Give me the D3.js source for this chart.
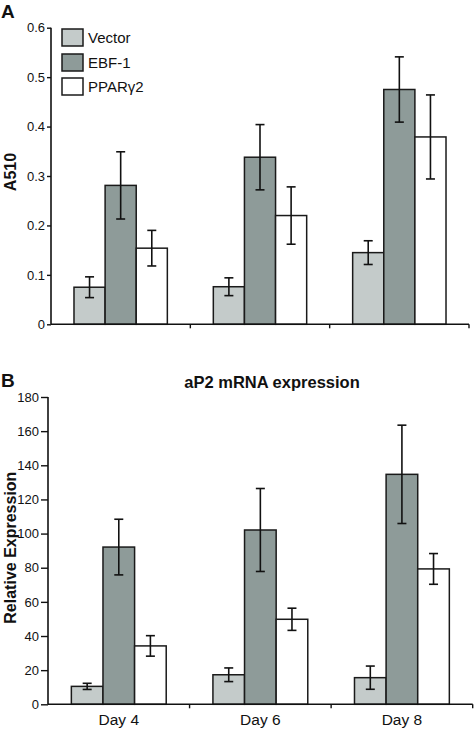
<!DOCTYPE html>
<html><head><meta charset="utf-8">
<script src="https://cdn.jsdelivr.net/npm/d3@7"></script>
<style>
html,body{margin:0;padding:0;background:#fff;}
text{font-family:"Liberation Sans",Arial,Helvetica,sans-serif;fill:#111;}
</style></head>
<body>
<svg id="chart" width="474" height="729"></svg>
<script>
// ---- data ----
const days = ["Day 4", "Day 6", "Day 8"];
const series = ["Vector", "EBF-1", "PPARγ2"];
const seriesColors = ["#c4cbca", "#8e9b99", "#ffffff"];

const a510Vector = [0.075, 0.076, 0.145];
const a510VectorErr = [0.021, 0.018, 0.024];
const a510EBF = [0.281, 0.338, 0.475];
const a510EBFErr = [0.068, 0.066, 0.066];
const a510PPAR = [0.154, 0.220, 0.379];
const a510PPARErr = [0.036, 0.058, 0.085];
const a510Ticks = [0, 0.1, 0.2, 0.3, 0.4, 0.5, 0.6];

const ap2Vector = [10.5, 17.3, 15.6];
const ap2VectorErr = [1.8, 4.0, 6.8];
const ap2EBF = [92.1, 102.1, 134.7];
const ap2EBFErr = [16.3, 24.3, 28.8];
const ap2PPAR = [34.2, 49.8, 79.3];
const ap2PPARErr = [6.0, 6.5, 9.0];
const ap2Ticks = [0, 20, 40, 60, 80, 100, 120, 140, 160, 180];

const svg = d3.select("#chart");

function panel(cfg) {
  const g = svg.append("g");
  const x0 = d3.scaleBand().domain(days).range([cfg.left, cfg.right])
    .paddingInner(0.33).paddingOuter(0.165);
  const x1 = d3.scaleBand().domain(series).range([0, x0.bandwidth()]);
  const y = d3.scaleLinear().domain(cfg.domain).range([cfg.bottom, cfg.top]);

  const rows = [];
  days.forEach((d, i) => {
    series.forEach((s, j) => {
      rows.push({day: d, s: s, j: j, v: cfg.values[j][i], e: cfg.errors[j][i]});
    });
  });

  // bars
  g.selectAll("rect.bar").data(rows).join("rect")
    .attr("class", "bar")
    .attr("x", d => x0(d.day) + x1(d.s))
    .attr("y", d => y(d.v))
    .attr("width", x1.bandwidth())
    .attr("height", d => y(0) - y(d.v))
    .attr("fill", d => seriesColors[d.j])
    .attr("stroke", "#1a1a1a").attr("stroke-width", 1.5);

  // error bars
  const eb = g.selectAll("g.err").data(rows).join("g").attr("class", "err")
    .attr("stroke", "#111").attr("stroke-width", 1.6);
  const cx = d => x0(d.day) + x1(d.s) + x1.bandwidth() / 2;
  eb.append("line").attr("x1", cx).attr("x2", cx)
    .attr("y1", d => y(d.v + d.e)).attr("y2", d => y(d.v - d.e));
  eb.append("line").attr("x1", d => cx(d) - 4.5).attr("x2", d => cx(d) + 4.5)
    .attr("y1", d => y(d.v + d.e)).attr("y2", d => y(d.v + d.e));
  eb.append("line").attr("x1", d => cx(d) - 4.5).attr("x2", d => cx(d) + 4.5)
    .attr("y1", d => y(d.v - d.e)).attr("y2", d => y(d.v - d.e));

  // y axis
  const ya = g.append("g").attr("transform", `translate(${cfg.left},0)`)
    .call(d3.axisLeft(y).tickValues(cfg.ticks).tickFormat(cfg.fmt)
      .tickSize(cfg.tickSize).tickPadding(2));
  ya.select(".domain").attr("stroke", "#111").attr("stroke-width", 1.6)
    .attr("d", `M-0,${cfg.bottom}V${cfg.top}`);
  ya.selectAll(".tick line").attr("stroke", "#111").attr("stroke-width", 1.4);
  ya.selectAll(".tick text").style("font-size", "13px").attr("fill", "#111")
    .style("font-family", "'Liberation Sans',Arial,sans-serif");

  // x axis
  const xa = g.append("g").attr("transform", `translate(0,${cfg.bottom})`);
  xa.append("line").attr("x1", cfg.left).attr("x2", cfg.right)
    .attr("y1", 0).attr("y2", 0).attr("stroke", "#111").attr("stroke-width", 1.6);
  const step = x0.step();
  xa.selectAll("line.tk").data(days).join("line").attr("class", "tk")
    .attr("x1", d => x0(d) - x0.paddingOuter() * step + step)
    .attr("x2", d => x0(d) - x0.paddingOuter() * step + step)
    .attr("y1", 0).attr("y2", 4).attr("stroke", "#111").attr("stroke-width", 1.4);
  if (cfg.showDays) {
    xa.selectAll("text.day").data(days).join("text").attr("class", "day")
      .attr("x", d => x0(d) + x0.bandwidth() / 2).attr("y", 21)
      .attr("text-anchor", "middle").style("font-size", "15.5px").text(d => d);
  }

  // y title
  g.append("text")
    .attr("transform", `translate(${cfg.ytitleX},${(cfg.top + cfg.bottom) / 2 + cfg.ytitleDy}) rotate(-90)`)
    .attr("text-anchor", "middle").style("font-size", "16px").style("font-weight", "bold")
    .text(cfg.ytitle);

  // panel letter
  g.append("text").attr("x", 1).attr("y", cfg.letterY)
    .style("font-size", "19px").style("font-weight", "bold").text(cfg.letter);
  return {g, x0, y};
}

// Panel A
panel({
  left: 51, right: 469, top: 27.7, bottom: 324.3, domain: [0, 0.6],
  values: [a510Vector, a510EBF, a510PPAR], errors: [a510VectorErr, a510EBFErr, a510PPARErr],
  ticks: a510Ticks, fmt: d => d === 0 ? "0" : d3.format(".1f")(d), tickSize: 4,
  showDays: false, ytitle: "A510", ytitleX: 16, ytitleDy: -4, letter: "A", letterY: 18
});

// legend
const leg = svg.append("g");
const legY = [29, 54, 78];
series.forEach((s, j) => {
  leg.append("rect").attr("x", 62).attr("y", legY[j]).attr("width", 21).attr("height", 17)
    .attr("fill", seriesColors[j]).attr("stroke", "#1a1a1a").attr("stroke-width", 1.5);
  leg.append("text").attr("x", 88).attr("y", legY[j] + 14)
    .style("font-size", "15px").text(s);
});

// Panel B
panel({
  left: 48, right: 472.7, top: 397, bottom: 704.3, domain: [0, 180],
  values: [ap2Vector, ap2EBF, ap2PPAR], errors: [ap2VectorErr, ap2EBFErr, ap2PPARErr],
  ticks: ap2Ticks, fmt: d3.format("d"), tickSize: 7,
  showDays: true, ytitle: "Relative Expression", ytitleX: 16, ytitleDy: -3, letter: "B", letterY: 387
});

svg.append("text").attr("x", 272).attr("y", 388).attr("text-anchor", "middle")
  .style("font-size", "16.5px").style("font-weight", "bold").text("aP2 mRNA expression");
</script>
</body></html>
